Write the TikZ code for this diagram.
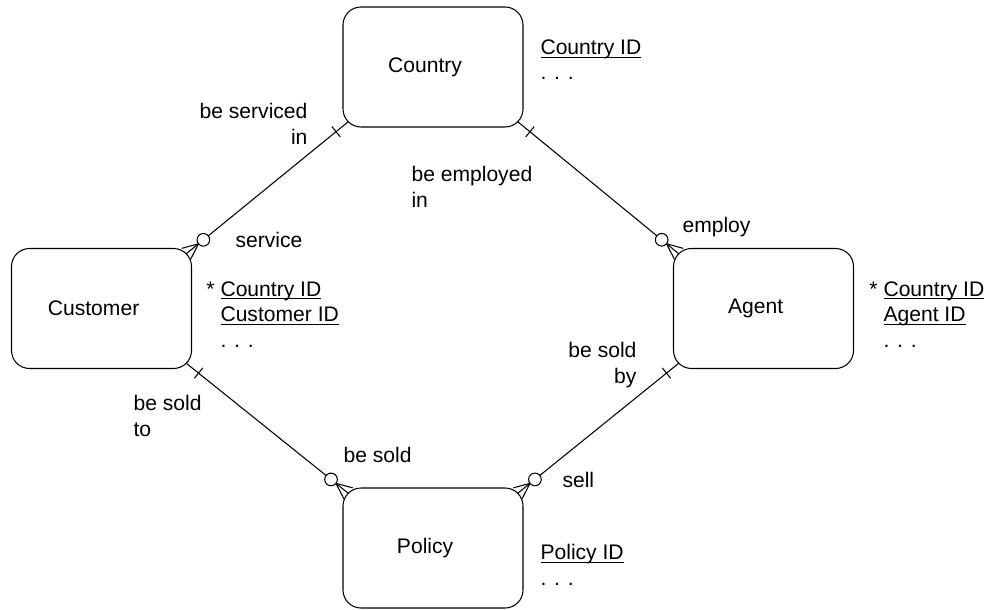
\documentclass[tikz,border=0pt]{standalone}
\usepackage{fontspec}
\setmainfont{Liberation Sans}
\usetikzlibrary{positioning, calc}

% key attribute: underline just under the baseline
\newcommand{\keyattr}[1]{\setbox0\hbox{#1}\rlap{\rule[-1.8pt]{\wd0}{0.5pt}}\box0}

\tikzset{
  entity/.style={draw, line width=0.6pt, rounded corners=3.6mm,
                 minimum width=36mm, minimum height=24mm, inner sep=0pt, outer sep=0pt,
                 execute at end node={\hspace*{9pt}}},
  role/.style={inner sep=0pt, align=left},
  attrs/.style={inner sep=0pt, align=left},
}

% optional-many end (#1), mandatory-one end (#2)
\newcommand{\erlink}[2]{%
  \draw (#1) -- (#2);
  \draw ($(#1)!9pt!(#2)$) -- ($(#1)!4pt!90:(#2)$)
        ($(#1)!9pt!(#2)$) -- ($(#1)!4pt!-90:(#2)$);
  \draw[fill=white] ($(#1)!12.6pt!(#2)$) circle (3.6pt);
  \draw ($(#2)!9pt!(#1)!3.8pt!90:(#1)$) -- ($(#2)!9pt!(#1)!3.8pt!-90:(#1)$);
}

\begin{document}
\begin{tikzpicture}[x=0.2mm, y=-0.2mm, line width=0.6pt,
    every node/.style={font=\fontsize{12}{14.5}\selectfont}]
  \useasboundingbox (0,0) rectangle (990,610);

  % entities
  \node[entity] (country) at (433,67) {Country};
  \node[entity] (cust) at (101.5,308.5) {Customer};
  \node[entity] (agent) at (763.5,308.5) {Agent};
  \node[entity] (policy) at (433,548) {Policy};

  % points on the rounded corners
  \coordinate (cust-ne) at ($(cust.north east)+(-5.3,5.3)$);
  \coordinate (cust-se) at ($(cust.south east)+(-5.3,-5.3)$);
  \coordinate (country-sw) at ($(country.south west)+(5.3,-5.3)$);
  \coordinate (country-se) at ($(country.south east)+(-5.3,-5.3)$);
  \coordinate (agent-nw) at ($(agent.north west)+(5.3,5.3)$);
  \coordinate (agent-sw) at ($(agent.south west)+(5.3,-5.3)$);
  \coordinate (policy-nw) at ($(policy.north west)+(5.3,5.3)$);
  \coordinate (policy-ne) at ($(policy.north east)+(-5.3,5.3)$);

  % relationships
  \erlink{cust-ne}{country-sw}
  \erlink{agent-nw}{country-se}
  \erlink{policy-nw}{cust-se}
  \erlink{policy-ne}{agent-sw}

  % role names (base = last line)
  \node[role, anchor=base east, align=right] (servicedin) at (308,144) {be serviced\\in};
  \node[role, anchor=base west] (service) at (235,247) {service};
  \node[role, anchor=base west] (employedin) at (411,207) {be employed\\in};
  \node[role, anchor=base west] (employ) at (682,232) {employ};
  \node[role, anchor=base east, align=right] (soldby) at (637,383) {be sold\\by};
  \node[role, anchor=base west] (soldto) at (133,436) {be sold\\to};
  \node[role, anchor=base west] (besold) at (343,462) {be sold};
  \node[role, anchor=base west] (sell) at (562,487) {sell};

  % attributes
  \node[attrs, anchor=base west] (countryattr) at (540,80) {\keyattr{Country ID}\\. . .};
  \node[attrs, anchor=base west] (custattr) at (220,347)
    {\llap{*\ }\keyattr{Country ID}\\\keyattr{Customer ID}\\. . .};
  \node[attrs, anchor=base west] (agentattr) at (883,347)
    {\llap{*\ }\keyattr{Country ID}\\\keyattr{Agent ID}\\. . .};
  \node[attrs, anchor=base west] (policyattr) at (540,585) {\keyattr{Policy ID}\\. . .};
\end{tikzpicture}
\end{document}
